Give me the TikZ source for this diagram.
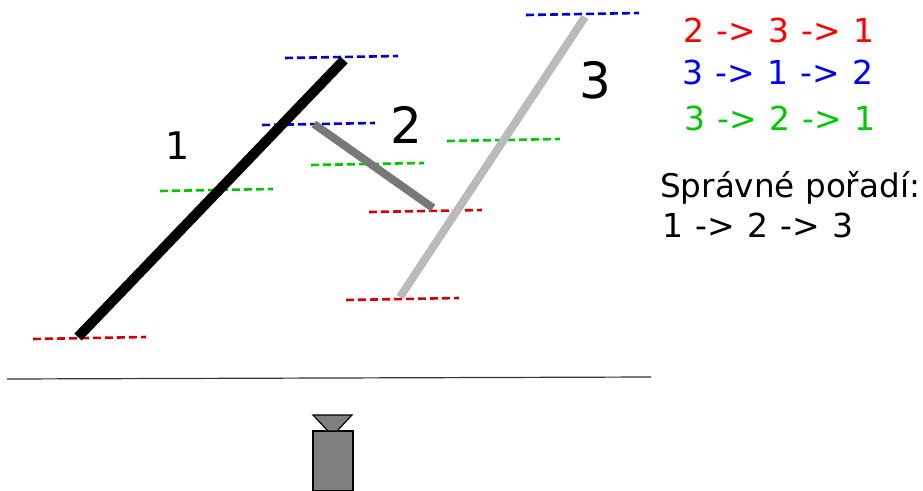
\documentclass[tikz,border=0pt]{standalone}
\usepackage{fontspec}
\setmainfont{DejaVu Sans}
\newfontfamily\wideface[WordSpace=1.18]{DejaVu Sans}
\definecolor{myred}{HTML}{D40000}
\definecolor{myblue}{HTML}{0000D4}
\definecolor{mygreen}{HTML}{00C800}
\definecolor{txtgreen}{HTML}{00C800}
\tikzset{
  mark line/.style={line width=2.6pt,dash pattern=on 8pt off 4pt},
  rd/.style={mark line,myred},
  bl/.style={mark line,myblue},
  gr/.style={mark line,mygreen},
  txt/.style={inner sep=0pt,anchor=base west,font=\fontsize{33}{33}\wideface},
  num/.style={inner sep=0pt,anchor=base,text=black}
}
\begin{document}
\begin{tikzpicture}[x=1pt,y=-1pt]
\useasboundingbox (0,0) rectangle (923,490);
% dashed marks
\draw[rd] (33,339) -- (146,337);
\draw[rd] (369,212) -- (482,210);
\draw[rd] (346,300) -- (459,298);
\draw[bl] (285,58) -- (398,56);
\draw[bl] (262,125) -- (375,123);
\draw[bl] (526,15) -- (639,13);
\draw[gr] (160,191) -- (273,189);
\draw[gr] (311,165) -- (424,163);
\draw[gr] (447,141) -- (560,139);
% bars
\draw[line width=8pt,color=black!27] (400,297) -- (585,17);
\draw[line width=10pt,black] (78,337) -- (344,60);
\draw[line width=8pt,color=black!53] (314,124) -- (433,208);
% labels
\node[num,font=\fontsize{38}{38}\selectfont] (n1) at (178,159) {1};
\node[num,font=\fontsize{50}{50}\selectfont] (n2) at (406,143) {2};
\node[num,font=\fontsize{50}{50}\selectfont] (n3) at (595,98) {3};
\node[txt,text=red] (o1) at (683,42) {2 -> 3 -> 1};
\node[txt,text=blue] (o2) at (682,84) {3 -> 1 -> 2};
\node[txt,text=txtgreen] (o3) at (684,130) {3 -> 2 -> 1};
\node[txt,text=black,font=\fontsize{32.6}{33}\selectfont] (s1) at (660,197) {Správné pořadí:};
\node[txt,text=black] (s2) at (662,237) {1 -> 2 -> 3};
% baseline
\draw[line width=1.2pt,black!80] (7,379) -- (651,377);
% camera
\draw[fill=black!50,line width=1.2pt] (313,431) rectangle (353,491);
\draw[fill=black!50,line width=1.2pt] (313,415) -- (352,415) -- (337,431) -- (328,431) -- cycle;
\end{tikzpicture}
\end{document}
